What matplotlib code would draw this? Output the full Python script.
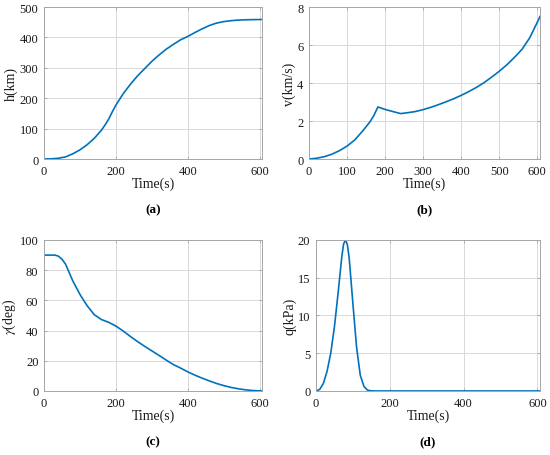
import matplotlib
matplotlib.use("Agg")
import matplotlib.pyplot as plt

plt.rcParams['font.family'] = ['Liberation Serif', 'DejaVu Serif']
plt.rcParams['mathtext.fontset'] = 'stix'

# 高度 h(km)
t_h = [0, 20, 40, 60, 80, 100, 120, 140, 160, 170, 180, 190, 200, 220, 240, 260, 280, 300,
       320, 340, 360, 380, 400, 420, 440, 460, 480, 500, 520, 540, 560, 580, 607]
h = [0, 0.5, 2.5, 7, 17, 30, 47, 68, 95, 112, 131, 155, 177, 214, 245, 273, 297, 321,
     342, 361, 377, 392, 403, 416, 428, 439, 447, 452, 455, 457, 458, 458.5, 459]

# 速度 v(km/s)
t_v = [0, 20, 40, 60, 80, 100, 120, 140, 160, 170, 181, 200, 220, 241, 260, 280, 300, 320,
       340, 360, 380, 400, 420, 440, 460, 480, 500, 520, 540, 560, 580, 600, 607]
v = [0, 0.04, 0.12, 0.25, 0.44, 0.68, 1.0, 1.45, 1.95, 2.27, 2.74, 2.61, 2.5, 2.39, 2.44, 2.5,
     2.6, 2.72, 2.86, 3.01, 3.17, 3.35, 3.55, 3.77, 4.02, 4.31, 4.62, 4.96, 5.35, 5.78, 6.38,
     7.2, 7.5]

# 弹道倾角 gamma(deg)
t_g = [0, 30, 40, 50, 60, 80, 100, 120, 140, 160, 180, 200, 220, 240, 260, 280, 300, 320,
       340, 360, 380, 400, 420, 440, 460, 480, 500, 520, 540, 560, 580, 600, 607]
gamma = [90, 90, 89.3, 87.3, 84, 73, 64, 56.5, 50.5, 47.3, 45.5, 43, 39.8, 36.2, 32.8, 29.6,
         26.6, 23.6, 20.5, 17.5, 15.2, 12.7, 10.5, 8.5, 6.7, 5, 3.6, 2.4, 1.5, 0.8, 0.3, 0.05, 0]

# 动压 q(kPa)
t_q = [0, 10, 20, 30, 40, 50, 60, 70, 75, 80, 85, 90, 100, 110, 120, 130, 140, 150, 160, 607]
q = [0, 0.2, 1.0, 2.6, 5.0, 8.5, 13.0, 17.8, 19.5, 20, 19.4, 17.6, 11.6, 5.8, 2.1, 0.6, 0.1,
     0.02, 0, 0]

blue = '#0072BD'
fig = plt.figure(figsize=(5.5, 4.56), dpi=100)

panels = [
    ([0.080, 0.6491, 0.3964, 0.3333], t_h, h, 'h(km)', (0, 500), [0, 100, 200, 300, 400, 500],
     [0, 200, 400, 600], '(a)'),
    ([0.5618, 0.6491, 0.4200, 0.3333], t_v, v, 'v(km/s)', (0, 8), [0, 2, 4, 6, 8],
     [0, 100, 200, 300, 400, 500, 600], '(b)'),
    ([0.080, 0.1404, 0.3964, 0.3311], t_g, gamma, r'$\gamma$(deg)', (0, 100),
     [0, 20, 40, 60, 80, 100], [0, 200, 400, 600], '(c)'),
    ([0.5745, 0.1404, 0.4073, 0.3311], t_q, q, 'q(kPa)', (0, 20), [0, 5, 10, 15, 20],
     [0, 200, 400, 600], '(d)'),
]

for rect, x, y, ylab, ylim, yt, xt, tag in panels:
    ax = fig.add_axes(rect)
    ax.plot(x, y, color=blue, lw=1.2)
    ax.set_xlim(0, 607)
    ax.set_ylim(*ylim)
    ax.set_xticks(xt)
    ax.set_yticks(yt)
    ax.grid(True, color='#d9d9d9', lw=0.7)
    ax.set_axisbelow(True)
    for s in ax.spines.values():
        s.set_color('#a6a6a6')
        s.set_linewidth(0.7)
    ax.tick_params(direction='in', length=2.5, width=0.6, color='#a6a6a6',
                   labelsize=9, labelcolor='#1a1a1a', pad=4, top=True, right=True)
    ax.set_xlabel('Time(s)', fontsize=10, color='#1a1a1a', labelpad=0)
    ax.set_ylabel(ylab, fontsize=10, color='#1a1a1a', labelpad=1)
    ax.text(0.5, -0.33, tag, transform=ax.transAxes, ha='center', va='center',
            fontsize=9.5, fontweight='bold')

fig.savefig('out.png', dpi=100)
